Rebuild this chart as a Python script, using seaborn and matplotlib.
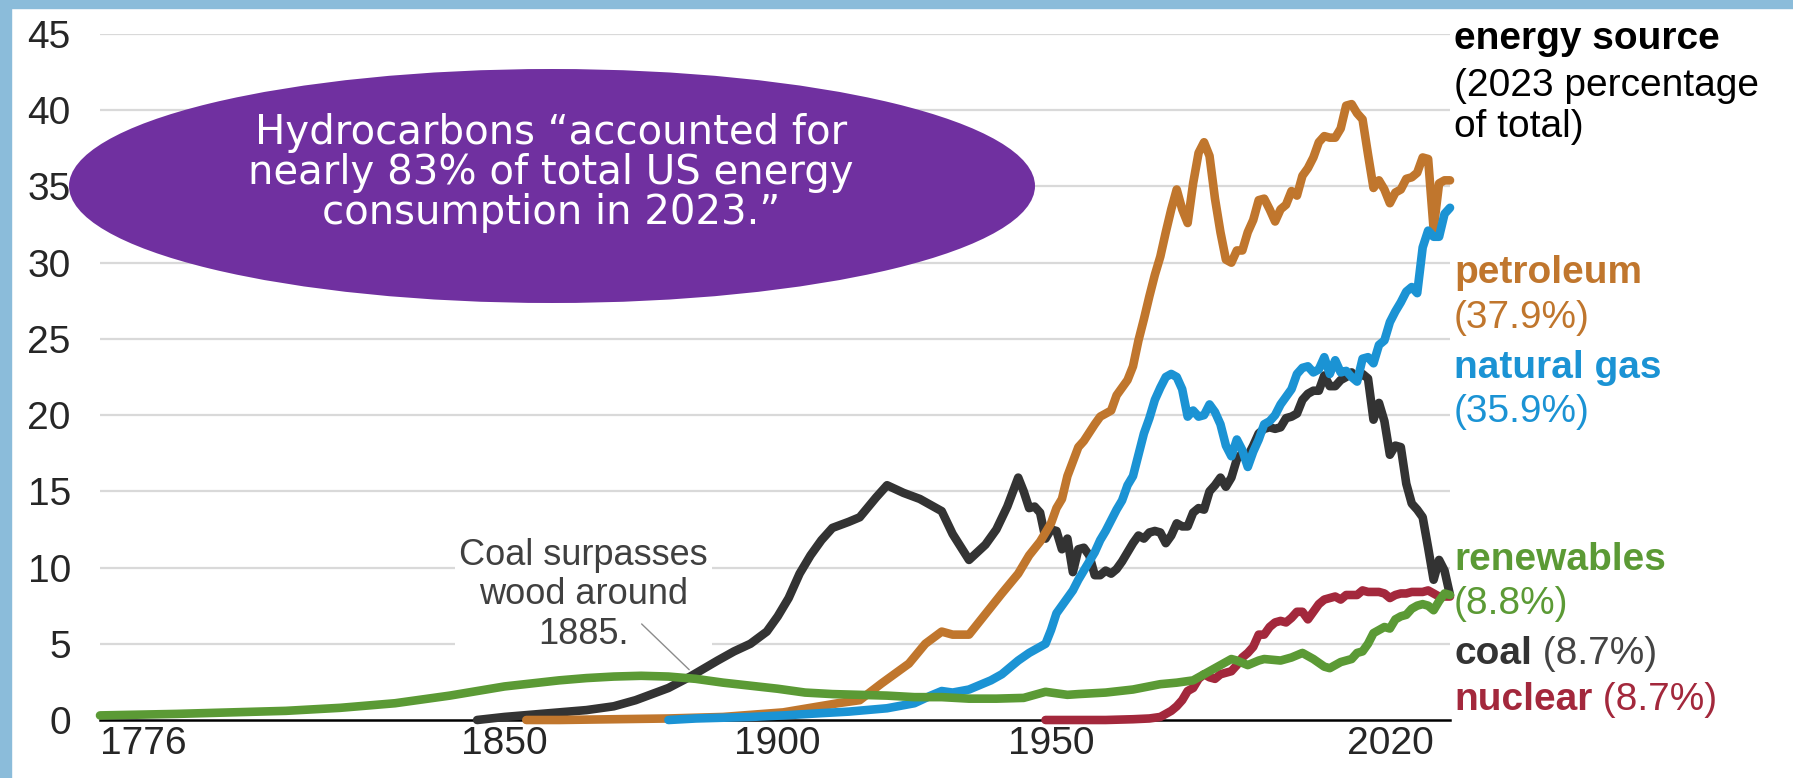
###*** US primary energy consumption by source, 1776-2023
import matplotlib
matplotlib.use('Agg')
import matplotlib.pyplot as plt
import seaborn as sns
import pandas as pd
from matplotlib.patches import Ellipse, Rectangle

### data (quadrillion Btu)
petroleum_years = [1854, 1860, 1870, 1880, 1890, 1901, 1906, 1911, 1915, 1919, 1924, 1927, 1930, 1932,
                   1935, 1937, 1939, 1941, 1944, 1946, 1948, 1950, 1951, 1952, 1953, 1955, 1956, 1958,
                   1959, 1961, 1962, 1964, 1965, 1966, 1967, 1968, 1969, 1970, 1971, 1972, 1973, 1974,
                   1975, 1976, 1977, 1978, 1979, 1980, 1981, 1982, 1983, 1984, 1985, 1986, 1987, 1988,
                   1989, 1990, 1991, 1992, 1993, 1994, 1995, 1996, 1997, 1998, 1999, 2000, 2001, 2002,
                   2003, 2004, 2005, 2006, 2007, 2008, 2009, 2010, 2011, 2012, 2013, 2014, 2015, 2016,
                   2017, 2018, 2019, 2020, 2021, 2022, 2023]
petroleum = [0.0, 0.0, 0.05, 0.1, 0.2, 0.5, 0.8, 1.1, 1.3, 2.4, 3.7, 5.0, 5.8, 5.6,
             5.6, 6.5, 7.4, 8.3, 9.6, 10.8, 11.7, 12.9, 13.9, 14.5, 16.0, 17.9, 18.3, 19.4,
             19.9, 20.3, 21.3, 22.3, 23.2, 24.9, 26.3, 27.8, 29.2, 30.4, 32.0, 33.5, 34.8, 33.5,
             32.6, 35.2, 37.2, 37.9, 37.0, 34.2, 32.0, 30.2, 30.0, 30.8, 30.8, 32.0, 32.8, 34.1,
             34.2, 33.5, 32.7, 33.5, 33.8, 34.7, 34.4, 35.7, 36.2, 36.9, 37.9, 38.3, 38.2, 38.2,
             38.8, 40.3, 40.4, 39.8, 39.4, 37.1, 34.9, 35.4, 34.8, 33.9, 34.6, 34.8, 35.5, 35.6,
             35.9, 36.9, 36.8, 32.2, 35.2, 35.4, 35.4]

gas_years = [1880, 1885, 1890, 1895, 1901, 1908, 1913, 1920, 1925, 1928, 1930, 1932, 1935, 1937,
             1939, 1941, 1943, 1944, 1946, 1948, 1949, 1950, 1951, 1952, 1953, 1954, 1955, 1956,
             1957, 1958, 1959, 1960, 1961, 1962, 1963, 1964, 1965, 1966, 1967, 1968, 1969, 1970,
             1971, 1972, 1973, 1974, 1975, 1976, 1977, 1978, 1979, 1980, 1981, 1982, 1983, 1984,
             1985, 1986, 1987, 1988, 1989, 1990, 1991, 1992, 1993, 1994, 1995, 1996, 1997, 1998,
             1999, 2000, 2001, 2002, 2003, 2004, 2005, 2006, 2007, 2008, 2009, 2010, 2011, 2012,
             2013, 2014, 2015, 2016, 2017, 2018, 2019, 2020, 2021, 2022, 2023]
natural_gas = [0.0, 0.1, 0.15, 0.2, 0.3, 0.45, 0.55, 0.77, 1.1, 1.6, 1.9, 1.8, 2.0, 2.3,
               2.6, 3.0, 3.6, 3.9, 4.4, 4.8, 5.0, 5.9, 7.0, 7.5, 8.0, 8.5, 9.2, 9.8,
               10.4, 11.0, 11.8, 12.4, 13.1, 13.8, 14.4, 15.4, 16.0, 17.4, 18.8, 19.8, 21.0, 21.8,
               22.5, 22.7, 22.5, 21.7, 19.9, 20.3, 19.9, 20.0, 20.7, 20.2, 19.4, 18.0, 17.3, 18.4,
               17.7, 16.6, 17.6, 18.4, 19.4, 19.6, 20.0, 20.7, 21.2, 21.7, 22.7, 23.1, 23.2, 22.8,
               23.0, 23.8, 22.7, 23.6, 22.8, 22.9, 22.5, 22.2, 23.7, 23.8, 23.4, 24.6, 24.9, 26.1,
               26.8, 27.4, 28.1, 28.4, 28.0, 31.0, 32.1, 31.7, 31.7, 33.2, 33.6]

coal_years = [1845, 1850, 1855, 1860, 1865, 1870, 1874, 1880, 1884, 1889, 1892, 1895, 1898, 1900,
              1902, 1904, 1906, 1908, 1910, 1913, 1915, 1918, 1920, 1923, 1926, 1930, 1932, 1935,
              1938, 1940, 1942, 1944, 1945, 1946, 1947, 1948, 1949, 1950, 1951, 1952, 1953, 1954,
              1955, 1956, 1957, 1958, 1959, 1960, 1961, 1962, 1963, 1964, 1965, 1966, 1967, 1968,
              1969, 1970, 1971, 1972, 1973, 1974, 1975, 1976, 1977, 1978, 1979, 1980, 1981, 1982,
              1983, 1984, 1985, 1986, 1987, 1988, 1989, 1990, 1991, 1992, 1993, 1994, 1995, 1996,
              1997, 1998, 1999, 2000, 2001, 2002, 2003, 2004, 2005, 2006, 2007, 2008, 2009, 2010,
              2011, 2012, 2013, 2014, 2015, 2016, 2017, 2018, 2019, 2020, 2021, 2022, 2023]
coal = [0.0, 0.2, 0.35, 0.5, 0.65, 0.9, 1.3, 2.1, 2.85, 3.9, 4.5, 5.0, 5.8, 6.8,
        8.0, 9.6, 10.8, 11.8, 12.6, 13.0, 13.3, 14.6, 15.4, 14.9, 14.5, 13.7, 12.2, 10.5,
        11.5, 12.5, 14.0, 15.9, 15.0, 13.9, 14.0, 13.6, 11.9, 12.5, 12.4, 11.2, 11.9, 9.7,
        11.2, 11.3, 10.8, 9.5, 9.5, 9.8, 9.6, 9.9, 10.4, 11.0, 11.6, 12.1, 11.9, 12.3,
        12.4, 12.3, 11.6, 12.1, 12.9, 12.7, 12.7, 13.6, 13.9, 13.8, 15.0, 15.4, 15.9, 15.3,
        15.9, 17.1, 17.5, 17.3, 18.0, 18.8, 19.1, 19.2, 19.1, 19.2, 19.8, 19.9, 20.1, 21.0,
        21.4, 21.6, 21.6, 22.6, 21.9, 21.9, 22.3, 22.5, 22.8, 22.4, 22.7, 22.4, 19.7, 20.8,
        19.6, 17.4, 18.0, 17.9, 15.5, 14.2, 13.8, 13.3, 11.3, 9.2, 10.5, 9.8, 8.2]

renew_years = [1776, 1790, 1800, 1810, 1820, 1830, 1840, 1845, 1850, 1855, 1860, 1865, 1870, 1875,
               1880, 1885, 1890, 1895, 1900, 1905, 1910, 1915, 1920, 1925, 1930, 1935, 1940, 1945,
               1949, 1950, 1953, 1955, 1960, 1965, 1970, 1973, 1976, 1978, 1980, 1983, 1984, 1986,
               1988, 1989, 1992, 1994, 1996, 1998, 2000, 2001, 2003, 2005, 2006, 2007, 2008, 2009,
               2010, 2011, 2012, 2013, 2014, 2015, 2016, 2017, 2018, 2019, 2020, 2021, 2022, 2023]
renewables = [0.3, 0.4, 0.5, 0.6, 0.8, 1.1, 1.6, 1.9, 2.2, 2.4, 2.6, 2.75, 2.85, 2.9,
              2.85, 2.7, 2.45, 2.25, 2.05, 1.8, 1.7, 1.65, 1.6, 1.5, 1.5, 1.4, 1.4, 1.45,
              1.85, 1.8, 1.65, 1.7, 1.8, 2.0, 2.35, 2.45, 2.6, 3.0, 3.4, 4.0, 3.9, 3.6,
              3.9, 4.0, 3.9, 4.1, 4.4, 4.0, 3.5, 3.4, 3.8, 4.0, 4.4, 4.5, 5.0, 5.7,
              5.9, 6.1, 6.0, 6.6, 6.8, 6.9, 7.3, 7.5, 7.6, 7.5, 7.2, 7.8, 8.3, 8.2]

nuclear_years = [1949, 1955, 1960, 1965, 1968, 1970, 1971, 1972, 1973, 1974, 1975, 1976, 1977, 1978,
                 1979, 1980, 1981, 1982, 1983, 1984, 1985, 1986, 1987, 1988, 1989, 1990, 1991, 1992,
                 1993, 1994, 1995, 1996, 1997, 1998, 1999, 2000, 2001, 2002, 2003, 2004, 2005, 2006,
                 2007, 2008, 2009, 2010, 2011, 2012, 2013, 2014, 2015, 2016, 2017, 2018, 2019, 2020,
                 2021, 2022, 2023]
nuclear = [0.0, 0.0, 0.0, 0.05, 0.1, 0.2, 0.4, 0.6, 0.9, 1.3, 1.9, 2.1, 2.7, 3.0,
           2.8, 2.7, 3.0, 3.1, 3.2, 3.6, 4.1, 4.4, 4.8, 5.6, 5.6, 6.1, 6.4, 6.5,
           6.4, 6.7, 7.1, 7.1, 6.6, 7.1, 7.6, 7.9, 8.0, 8.1, 7.9, 8.2, 8.2, 8.2,
           8.5, 8.4, 8.4, 8.4, 8.3, 8.0, 8.2, 8.3, 8.3, 8.4, 8.4, 8.4, 8.5, 8.3,
           8.1, 8.1, 8.1]

sources = ['coal', 'petroleum', 'nuclear', 'natural gas', 'renewables']
colors = {'petroleum': '#C0762D', 'natural gas': '#1B93D4', 'coal': '#333333',
          'renewables': '#5B9A35', 'nuclear': '#A3283C'}
shares = {'petroleum': '(37.9%)', 'natural gas': '(35.9%)', 'renewables': '(8.8%)',
          'coal': '(8.7%)', 'nuclear': '(8.7%)'}
x_ticks = [1776, 1850, 1900, 1950, 2020]
y_ticks = [0, 5, 10, 15, 20, 25, 30, 35, 40, 45]

df = pd.concat([
    pd.DataFrame({'year': petroleum_years, 'quads': petroleum, 'source': 'petroleum'}),
    pd.DataFrame({'year': gas_years, 'quads': natural_gas, 'source': 'natural gas'}),
    pd.DataFrame({'year': coal_years, 'quads': coal, 'source': 'coal'}),
    pd.DataFrame({'year': renew_years, 'quads': renewables, 'source': 'renewables'}),
    pd.DataFrame({'year': nuclear_years, 'quads': nuclear, 'source': 'nuclear'}),
])

sns.set_style('white')
plt.rcParams['font.family'] = ['Liberation Sans', 'DejaVu Sans']

W, H = 1793, 778
fig = plt.figure(figsize=(W / 100, H / 100), dpi=100)
fig.patch.set_facecolor('white')
# light blue frame strips (left and top)
fig.patches.append(Rectangle((0, 0), 11 / W, 1, transform=fig.transFigure, color='#8BBCDA', zorder=0))
fig.patches.append(Rectangle((0, 1 - 8 / H), 1, 8 / H, transform=fig.transFigure, color='#8BBCDA', zorder=0))

ax = fig.add_axes([100 / W, 1 - 720 / H, 1350 / W, 686 / H])
sns.lineplot(data=df, x='year', y='quads', hue='source', hue_order=sources, palette=colors,
             legend=False, estimator=None, sort=True, ax=ax)
for ln in ax.lines:
    ln.set_linewidth(6.2)
    ln.set_solid_joinstyle('round')
    ln.set_solid_capstyle('round')
    ln.set_clip_on(False)
    ln.set_zorder(3)

ax.set_xlim(1776, 2023)
ax.set_ylim(0, 45)
ax.set_xlabel('')
ax.set_ylabel('')
ax.set_yticks(y_ticks)
ax.set_yticklabels([str(v) for v in y_ticks], fontsize=28)
ax.set_xticks(x_ticks)
ax.set_xticklabels([str(v) for v in x_ticks], fontsize=28)
xl = ax.get_xticklabels()
xl[0].set_ha('left')
xl[-1].set_ha('right')
ax.tick_params(axis='y', length=0, pad=21)
ax.tick_params(axis='x', length=0, pad=4)
for v in y_ticks[1:]:
    ax.axhline(v, color='#D9D9D9', lw=1.6, zorder=1)
for s in ['top', 'right', 'left']:
    ax.spines[s].set_visible(False)
ax.spines['bottom'].set_color('black')
ax.spines['bottom'].set_linewidth(1.8)
ax.spines['bottom'].set_zorder(2)

### right-hand labels
tr = ax.get_yaxis_transform()
lx = 1.003
ax.text(lx, 44.7, 'energy source', transform=tr, fontsize=28, fontweight='bold',
        color='black', va='center', ha='left')
ax.text(lx, 41.6, '(2023 percentage', transform=tr, fontsize=28, color='black', va='center', ha='left')
ax.text(lx, 38.9, 'of total)', transform=tr, fontsize=28, color='black', va='center', ha='left')

ax.text(lx, 29.3, 'petroleum', transform=tr, fontsize=28, fontweight='bold',
        color=colors['petroleum'], va='center', ha='left')
ax.text(lx, 26.4, shares['petroleum'], transform=tr, fontsize=28, color=colors['petroleum'],
        va='center', ha='left')
ax.text(lx, 23.1, 'natural gas', transform=tr, fontsize=28, fontweight='bold',
        color=colors['natural gas'], va='center', ha='left')
ax.text(lx, 20.2, shares['natural gas'], transform=tr, fontsize=28, color=colors['natural gas'],
        va='center', ha='left')
ax.text(lx, 10.5, 'renewables', transform=tr, fontsize=28, fontweight='bold',
        color=colors['renewables'], va='center', ha='left')
ax.text(lx, 7.6, shares['renewables'], transform=tr, fontsize=28, color=colors['renewables'],
        va='center', ha='left')
for name, yv, col in [('coal', 4.3, '#333333'), ('nuclear', 1.3, colors['nuclear'])]:
    t = ax.text(lx, yv, name, transform=tr, fontsize=28, fontweight='bold', color=col,
                va='center', ha='left')
    ax.annotate(' ' + shares[name], xy=(1, 0), xycoords=t, fontsize=28,
                color='#444444' if name == 'coal' else col, va='bottom', ha='left')

### coal/wood annotation
ax.text(1864.4, 8.2, 'Coal surpasses\nwood around\n1885.', fontsize=26, color='#404040',
        ha='center', va='center', linespacing=1.15, zorder=2,
        bbox=dict(boxstyle='square,pad=0.12', fc='white', ec='none'))
ax.annotate('', xy=(1883.8, 3.3), xytext=(1875.1, 6.3),
            arrowprops=dict(arrowstyle='-', color='#8C8C8C', lw=1.0, shrinkA=0, shrinkB=0), zorder=2)

### purple callout
ell = Ellipse((552 / W, 1 - 186 / H), 966 / W, 234 / H, transform=fig.transFigure,
              facecolor='#7030A0', edgecolor='none', zorder=5)
fig.patches.append(ell)
fig.text(551 / W, 1 - 173 / H,
         'Hydrocarbons \u201caccounted for\nnearly 83% of total US energy\nconsumption in 2023.\u201d',
         fontsize=29, color='white', ha='center', va='center', linespacing=1.0,
         family=['DejaVu Sans'], zorder=6)

fig.savefig('out.png', dpi=100, facecolor='white')
